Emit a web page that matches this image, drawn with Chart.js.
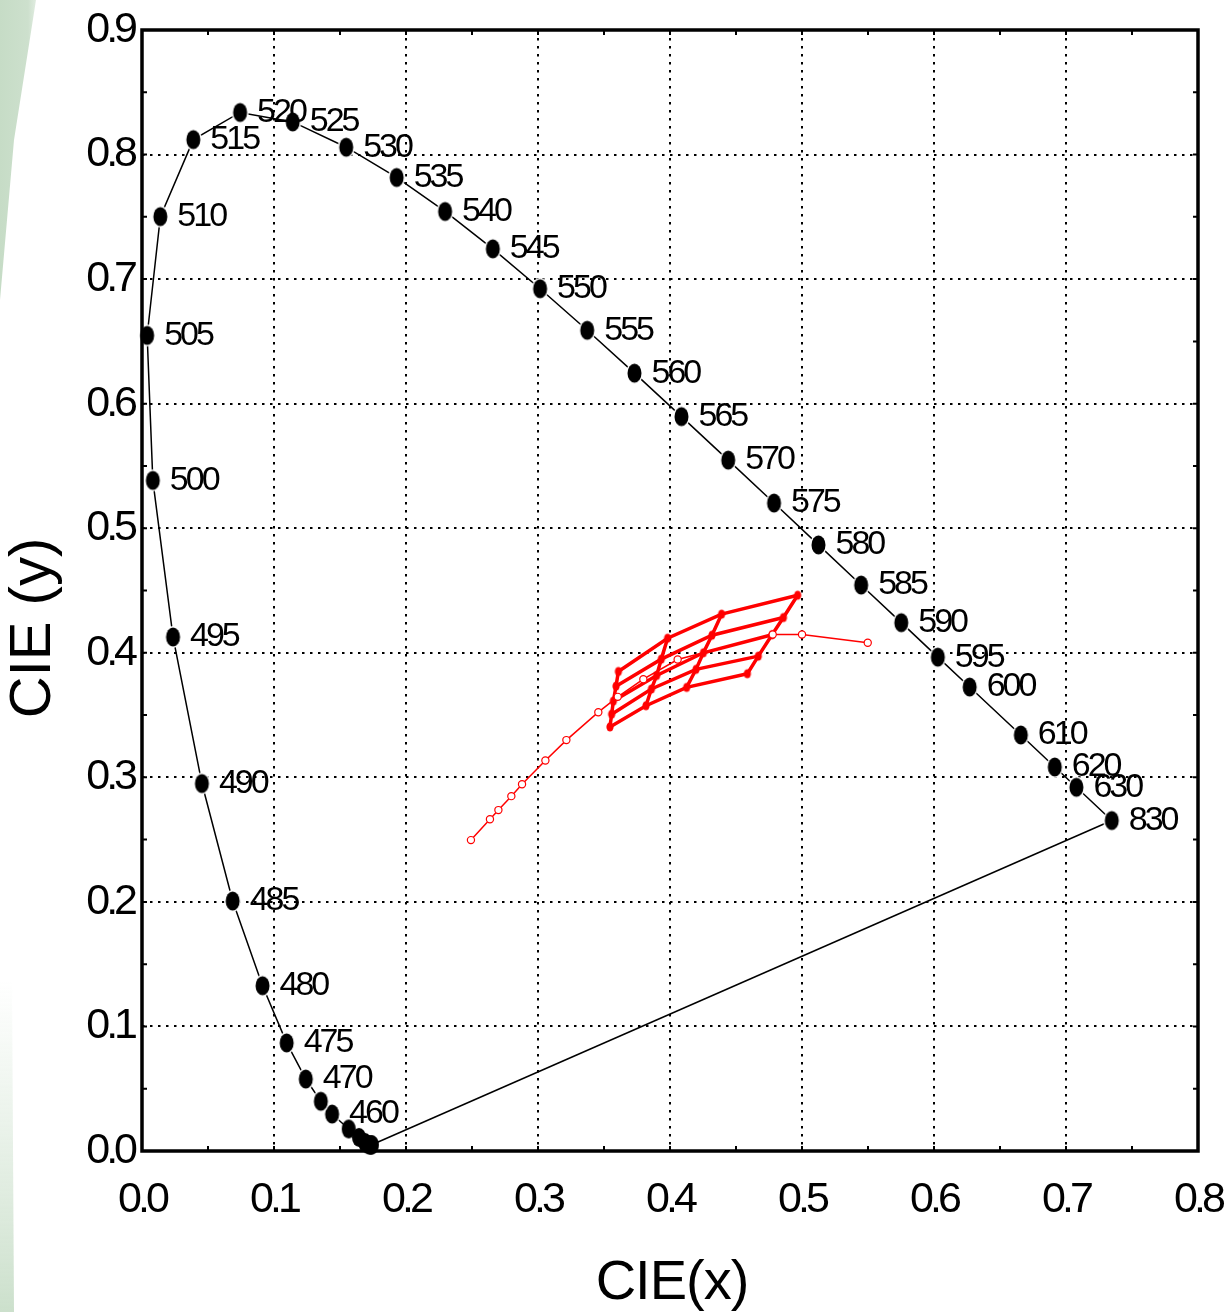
<!DOCTYPE html>
<html>
<head>
<meta charset="utf-8">
<title>CIE chromaticity</title>
<style>
  html, body { margin: 0; padding: 0; background: #fff; }
  canvas { display: block; }
</style>
</head>
<body>
<canvas id="cie" width="1232" height="1312"></canvas>
<script src="https://cdn.jsdelivr.net/npm/chart.js@4/dist/chart.umd.min.js"></script>
<script>
// spectral locus (wavelength, x, y)
const locusNm = [380, 390, 400, 410, 420, 430, 440, 450, 460, 465, 470, 475, 480, 485, 490, 495,
  500, 505, 510, 515, 520, 525, 530, 535, 540, 545, 550, 555, 560, 565, 570, 575, 580, 585,
  590, 595, 600, 610, 620, 630, 830];
const locusX = [0.1741, 0.1738, 0.1733, 0.1726, 0.1714, 0.1689, 0.1644, 0.1566, 0.1440, 0.1355,
  0.1241, 0.1096, 0.0913, 0.0687, 0.0454, 0.0235, 0.0082, 0.0039, 0.0139, 0.0389, 0.0743,
  0.1142, 0.1547, 0.1929, 0.2296, 0.2658, 0.3016, 0.3373, 0.3731, 0.4087, 0.4441, 0.4788,
  0.5125, 0.5448, 0.5752, 0.6029, 0.6270, 0.6658, 0.6915, 0.7079, 0.7347];
const locusY = [0.0050, 0.0049, 0.0048, 0.0048, 0.0051, 0.0069, 0.0109, 0.0177, 0.0297, 0.0399,
  0.0578, 0.0868, 0.1327, 0.2007, 0.2950, 0.4127, 0.5384, 0.6548, 0.7502, 0.8120, 0.8338,
  0.8262, 0.8059, 0.7816, 0.7543, 0.7243, 0.6923, 0.6589, 0.6245, 0.5896, 0.5547, 0.5202,
  0.4866, 0.4544, 0.4242, 0.3965, 0.3725, 0.3340, 0.3083, 0.2920, 0.2653];
const labelledNm = [460, 470, 475, 480, 485, 490, 495, 500, 505, 510, 515, 520, 525, 530, 535,
  540, 545, 550, 555, 560, 565, 570, 575, 580, 585, 590, 595, 600, 610, 620, 630, 830];

// thin red curve with open markers
const curveX = [0.2492, 0.2636, 0.2700, 0.2798, 0.2879, 0.3056, 0.3215, 0.3457, 0.3604, 0.3798,
  0.4058, 0.4778, 0.5000, 0.5498];
const curveY = [0.2496, 0.2664, 0.2737, 0.2849, 0.2945, 0.3135, 0.3299, 0.3523, 0.3646, 0.3788,
  0.3946, 0.4147, 0.4147, 0.4080];

// thick red mesh, one row per array
const meshX = [
  [0.3609, 0.3982, 0.4391, 0.4967],
  [0.3591, 0.3934, 0.4318, 0.4859],
  [0.3571, 0.3899, 0.4253, 0.4773],
  [0.3558, 0.3859, 0.4197, 0.4669],
  [0.3545, 0.3818, 0.4126, 0.4586]
];
const meshY = [
  [0.3850, 0.4117, 0.4310, 0.4462],
  [0.3732, 0.3949, 0.4141, 0.4283],
  [0.3612, 0.3818, 0.4000, 0.4145],
  [0.3507, 0.3709, 0.3867, 0.3973],
  [0.3405, 0.3575, 0.3722, 0.3832]
];

const FONT = '"Liberation Sans", Arial, sans-serif';
const RED = '#ff0000';

function ellipseDot(rx, ry, fill, ring) {
  const c = document.createElement('canvas');
  c.width = Math.ceil(2 * (rx + ring)) + 2;
  c.height = Math.ceil(2 * (ry + ring)) + 2;
  const g = c.getContext('2d');
  if (ring > 0) {
    g.beginPath();
    g.ellipse(c.width / 2, c.height / 2, rx + ring, ry + ring, 0, 0, Math.PI * 2);
    g.fillStyle = '#fff';
    g.fill();
  }
  g.beginPath();
  g.ellipse(c.width / 2, c.height / 2, rx, ry, 0, 0, Math.PI * 2);
  g.fillStyle = fill;
  g.fill();
  return c;
}
const blackDot = ellipseDot(7, 9.5, '#000', 1.5);
const blackDotPlain = ellipseDot(7, 9.5, '#000', 0);
const redDot = ellipseDot(3.6, 4.6, RED, 0);

const pts = (xs, ys) => xs.map((x, i) => ({ x: x, y: ys[i] }));

const locusPts = pts(locusX, locusY);
const datasets = [];

datasets.push({
  label: 'curve',
  data: pts(curveX, curveY),
  borderColor: RED, borderWidth: 1.5,
  pointStyle: 'circle', pointRadius: 3.6, pointBorderWidth: 1.2,
  pointBorderColor: RED, pointBackgroundColor: '#fff',
  order: 0
});
meshX.forEach((row, r) => {
  datasets.push({
    label: 'row' + r,
    data: pts(row, meshY[r]),
    borderColor: RED, borderWidth: 3.5,
    pointStyle: redDot, pointRadius: 4,
    order: 1
  });
});
meshX[0].forEach((_, c) => {
  datasets.push({
    label: 'col' + c,
    data: pts(meshX.map(row => row[c]), meshY.map(row => row[c])),
    borderColor: RED, borderWidth: 3.5,
    pointRadius: 0,
    order: 2
  });
});
datasets.push({
  label: 'locus',
  data: locusPts,
  borderColor: '#000', borderWidth: 1.5,
  // the crowded violet end is drawn as one solid blob
  pointStyle: ctx => (locusNm[ctx.dataIndex] < 460 ? blackDotPlain : blackDot),
  pointRadius: 8,
  order: 3
});
datasets.push({
  label: 'purple line',
  data: [locusPts[locusPts.length - 1], locusPts[0]],
  borderColor: '#000', borderWidth: 1.5,
  pointRadius: 0,
  order: 4
});
datasets.forEach(d => { d.clip = false; d.showLine = true; d.tension = 0; });

function noPad(scale) {
  scale.paddingLeft = 0; scale.paddingRight = 0;
  scale.paddingTop = 0; scale.paddingBottom = 0;
}

const decor = {
  id: 'decor',
  beforeUpdate(chart) { chart.ctx.letterSpacing = '-4px'; },
  beforeDraw(chart) {
    const ctx = chart.ctx;
    ctx.letterSpacing = '-4px';
    ctx.save();
    ctx.letterSpacing = '0px';
    let g = ctx.createLinearGradient(0, 0, 40, 0);
    g.addColorStop(0, '#c6dcc6');
    g.addColorStop(0.7, '#cde0cd');
    g.addColorStop(1, '#eaf2ea');
    ctx.fillStyle = g;
    ctx.beginPath();
    ctx.moveTo(0, 0); ctx.lineTo(36, 0); ctx.lineTo(14, 140); ctx.lineTo(0, 300); ctx.closePath();
    ctx.fill();
    g = ctx.createLinearGradient(0, 980, 0, 1312);
    g.addColorStop(0, 'rgba(210,228,210,0)');
    g.addColorStop(1, 'rgba(204,224,204,1)');
    ctx.fillStyle = g;
    ctx.beginPath();
    ctx.moveTo(0, 980); ctx.lineTo(12, 980); ctx.lineTo(14, 1312); ctx.lineTo(0, 1312); ctx.closePath();
    ctx.fill();
    ctx.restore();
  },
  afterDatasetsDraw(chart) {
    const ctx = chart.ctx;
    const a = chart.chartArea;
    const xs = chart.scales.x, ys = chart.scales.y;
    ctx.save();
    // frame with small inward ticks every 0.05
    ctx.strokeStyle = '#000';
    ctx.lineWidth = 2;
    ctx.beginPath();
    for (let v = 0.05; v < 0.8; v += 0.05) {
      const px = xs.getPixelForValue(v);
      ctx.moveTo(px, a.bottom); ctx.lineTo(px, a.bottom - 5);
      ctx.moveTo(px, a.top); ctx.lineTo(px, a.top + 5);
    }
    for (let v = 0.05; v < 0.9; v += 0.05) {
      const py = ys.getPixelForValue(v);
      ctx.moveTo(a.left, py); ctx.lineTo(a.left + 5, py);
      ctx.moveTo(a.right, py); ctx.lineTo(a.right - 5, py);
    }
    ctx.stroke();
    ctx.lineWidth = 3.5;
    ctx.strokeRect(a.left, a.top, a.right - a.left, a.bottom - a.top);

    // wavelength labels
    const meta = chart.getDatasetMeta(chart.data.datasets.findIndex(d => d.label === 'locus'));
    ctx.fillStyle = '#000';
    ctx.font = '34px ' + FONT;
    ctx.letterSpacing = '-3px';
    ctx.textAlign = 'left';
    ctx.textBaseline = 'middle';
    locusNm.forEach((nm, i) => {
      if (labelledNm.indexOf(nm) < 0) return;
      const el = meta.data[i];
      ctx.fillText(String(nm), el.x + 17, el.y);
    });

    // axis titles
    ctx.letterSpacing = '-1px';
    ctx.font = '56px ' + FONT;
    ctx.textAlign = 'center';
    ctx.fillText('CIE(x)', 672, 1284);
    ctx.translate(34, 628);
    ctx.rotate(-Math.PI / 2);
    ctx.letterSpacing = '0px';
    ctx.font = '58px ' + FONT;
    ctx.fillText('CIE (y)', 0, 0);
    ctx.restore();
  }
};

new Chart(document.getElementById('cie').getContext('2d'), {
  type: 'scatter',
  data: { datasets: datasets },
  options: {
    responsive: false,
    animation: false,
    layout: { padding: { top: 30, right: 34, left: 0, bottom: 0 } },
    plugins: { legend: { display: false }, tooltip: { enabled: false } },
    scales: {
      x: {
        type: 'linear', min: 0, max: 0.8,
        afterFit(scale) { scale.height = 161; noPad(scale); },
        ticks: { stepSize: 0.1, color: '#000', padding: 23, font: { size: 43, family: FONT },
          callback: v => v.toFixed(1) },
        grid: { color: '#000', lineWidth: 2, drawTicks: false },
        border: { display: false, dash: [2.5, 5.5] }
      },
      y: {
        type: 'linear', min: 0, max: 0.9,
        afterFit(scale) { scale.width = 142; noPad(scale); },
        ticks: { stepSize: 0.1, color: '#000', padding: 8, font: { size: 43, family: FONT },
          callback: v => v.toFixed(1) },
        grid: { color: '#000', lineWidth: 2, drawTicks: false },
        border: { display: false, dash: [2.5, 5.5] }
      }
    }
  },
  plugins: [decor]
});
</script>
</body>
</html>
